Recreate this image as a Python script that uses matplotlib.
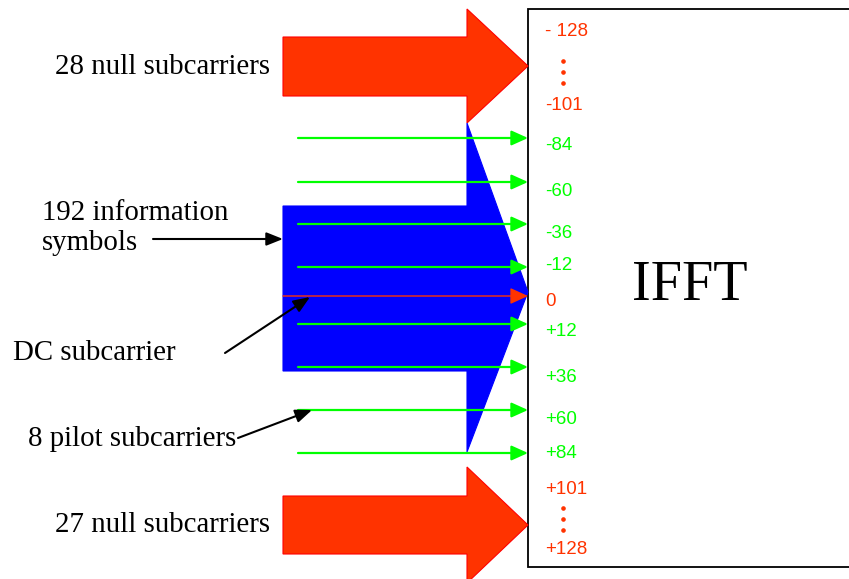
import matplotlib.pyplot as plt
from matplotlib.patches import Polygon, Rectangle

# subcarrier labels on the IFFT input side
null_top = ["- 128", "-101"]
null_bottom = ["+101", "+128"]
used_labels = ["-84", "-60", "-36", "-12", "0", "+12", "+36", "+60", "+84"]
used_is_dc = [False, False, False, False, True, False, False, False, False]

# row positions (pixels from top) of the input arrows and their labels
arrow_rows = [138, 182, 224, 267, 296, 324, 367, 410, 453]
label_rows = [146, 192, 234, 266, 301, 332, 378, 420, 453]
null_top_rows = [31, 106]
null_bottom_rows = [489, 549]

left_texts = ["28 null subcarriers", "192 information\nsymbols", "DC subcarrier",
              "8 pilot subcarriers", "27 null subcarriers"]

RED = "#FF3300"
GREEN = "#00FF00"
BLUE = "#0000FF"

fig = plt.figure(figsize=(8.49, 5.79), dpi=100)
ax = fig.add_axes([0, 0, 1, 1])
ax.set_xlim(0, 849)
ax.set_ylim(579, 0)
ax.axis("off")

# IFFT box (right side runs off the picture)
ax.add_patch(Rectangle((528, 9), 340, 558, facecolor="white", edgecolor="black", lw=1.3, zorder=1))
ax.text(690, 286, "IFFT", fontsize=40.5, family="Liberation Serif", ha="center", va="center")

def big_arrow(y_top, y_bot, head_top, head_bot, tip_y, color, edge):
    pts = [(283, y_top), (467, y_top), (467, head_top), (528, tip_y),
           (467, head_bot), (467, y_bot), (283, y_bot)]
    ax.add_patch(Polygon(pts, closed=True, facecolor=color, edgecolor=edge, lw=0.8, zorder=2))

big_arrow(37, 96, 9, 123, 66, RED, "#FF0000")
big_arrow(206, 371, 123, 452, 292, BLUE, BLUE)
big_arrow(496, 554, 467, 583, 525, RED, "#FF0000")

# subcarrier arrows into the IFFT
for y, dc in zip(arrow_rows, used_is_dc):
    if dc:
        ax.annotate("", xy=(528, y), xytext=(283, y),
                    arrowprops=dict(arrowstyle="-|>,head_length=1.1,head_width=0.5",
                                    color=RED, lw=1.0, shrinkA=0, shrinkB=0), zorder=3)
    else:
        ax.annotate("", xy=(528, y), xytext=(298, y),
                    arrowprops=dict(arrowstyle="-|>,head_length=1.0,head_width=0.45",
                                    color=GREEN, lw=1.6, shrinkA=0, shrinkB=0), zorder=3)

lab_font = dict(fontsize=13.5, family="Liberation Sans", va="center", ha="left")
for lab, y, dc in zip(used_labels, label_rows, used_is_dc):
    ax.text(545, y, lab, color=RED if dc else GREEN, **lab_font)
for lab, y in zip(null_top, null_top_rows):
    ax.text(545, y, lab, color=RED, **lab_font)
for lab, y in zip(null_bottom, null_bottom_rows):
    ax.text(545, y, lab, color=RED, **lab_font)
for y0 in (61, 508):
    for k in range(3):
        ax.plot(563, y0 + 11 * k, "o", color=RED, ms=2.3, zorder=4)

# left-hand descriptions
serif = dict(fontsize=20.8, family="Liberation Serif", va="center")
ax.text(270, 67, left_texts[0], ha="right", **serif)
ax.text(42, 228, left_texts[1], ha="left", linespacing=1.22, **serif)
ax.text(13, 353, left_texts[2], ha="left", **serif)
ax.text(28, 439, left_texts[3], ha="left", **serif)
ax.text(270, 525, left_texts[4], ha="right", **serif)

black = dict(arrowstyle="-|>,head_length=1.0,head_width=0.4", color="black", lw=1.5,
             shrinkA=0, shrinkB=0)
ax.annotate("", xy=(283, 239), xytext=(153, 239), arrowprops=black, zorder=5)
ax.annotate("", xy=(310, 297), xytext=(225, 353), arrowprops=black, zorder=5)
ax.annotate("", xy=(312, 410), xytext=(238, 438), arrowprops=black, zorder=5)

fig.savefig("out.png", dpi=100)
